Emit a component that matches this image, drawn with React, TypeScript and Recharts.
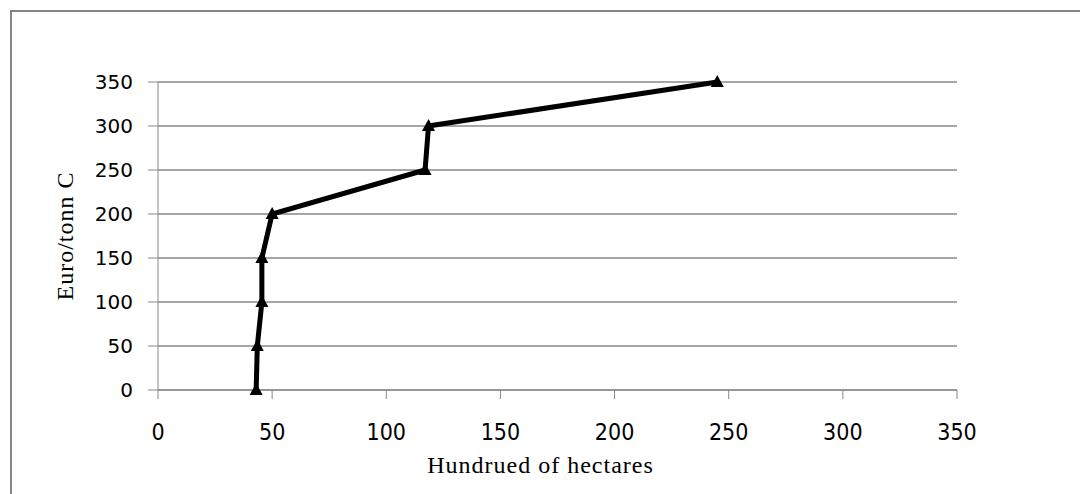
import React from 'react';
import { LineChart, Line, XAxis, YAxis, CartesianGrid } from 'recharts';

// area (hundred of hectares) against marginal cost (euro/tonn C)
const hectares = [43, 43.5, 45.5, 45.5, 50, 117, 118.5, 245];
const euroPerTonn = [0, 50, 100, 150, 200, 250, 300, 350];
const xTicks = [0, 50, 100, 150, 200, 250, 300, 350];
const yTicks = [0, 50, 100, 150, 200, 250, 300, 350];

const data = hectares.map((h, i) => ({ h, cost: euroPerTonn[i] }));

const Triangle = (props: any) => {
  const { cx, cy } = props;
  if (cx == null || cy == null) return null;
  return <path d={`M${cx},${cy - 7} L${cx + 6.5},${cy + 5} L${cx - 6.5},${cy + 5} Z`} fill="#000" />;
};

export default function App() {
  return (
    <div style={{ position: 'absolute', left: 0, top: 0, width: 1080, height: 494, background: '#fff', overflow: 'hidden' }}>
      <div style={{ position: 'absolute', left: 10, top: 10, width: 1100, height: 600, border: '2px solid #858585' }} />
      <div style={{ position: 'absolute', left: 0, top: 0 }}>
        <LineChart width={1080} height={494} data={data} margin={{ top: 82, right: 123, left: 0, bottom: 0 }}>
          <CartesianGrid vertical={false} stroke="#888" strokeWidth={1.5} />
          <XAxis
            dataKey="h"
            type="number"
            domain={[0, 350]}
            ticks={xTicks}
            height={104}
            stroke="#888"
            tickSize={9}
            tickMargin={25}
            tick={{ fill: '#000', fontSize: 23, fontFamily: 'DejaVu Sans Condensed' }}
            label={{ value: 'Hundrued of hectares', position: 'insideBottom', offset: 21, dx: -17, fill: '#000', fontSize: 24, fontFamily: 'Liberation Serif', letterSpacing: 1 }}
          />
          <YAxis
            type="number"
            domain={[0, 350]}
            ticks={yTicks}
            width={158}
            stroke="#888"
            tickSize={10}
            tickMargin={15}
            tick={{ fill: '#000', fontSize: 20, fontFamily: 'DejaVu Sans' }}
            label={{ value: 'Euro/tonn C', angle: -90, position: 'insideLeft', offset: 64, fill: '#000', fontSize: 24, fontFamily: 'Liberation Serif', letterSpacing: 1, style: { textAnchor: 'middle' } }}
          />
          <Line
            dataKey="cost"
            type="linear"
            stroke="#000"
            strokeWidth={5}
            dot={<Triangle />}
            isAnimationActive={false}
          />
        </LineChart>
      </div>
    </div>
  );
}
